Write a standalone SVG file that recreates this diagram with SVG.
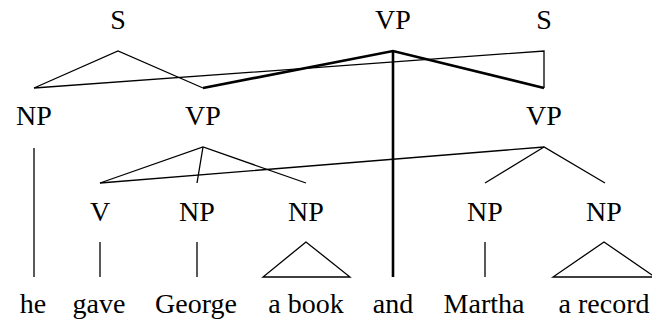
<svg xmlns="http://www.w3.org/2000/svg" width="652" height="323" viewBox="0 0 652 323">
<style>
.e{stroke:#000;stroke-width:1.3;fill:none;stroke-linejoin:miter}
.t{stroke:#000;stroke-width:2.6;fill:none}
</style>
<rect width="652" height="323" fill="#fff"/>
<g id="edges">
<polyline class="e" points="34,88 118,51 203,88"/>
<polyline class="e" points="34,88 544,51 544,88"/>
<polyline class="t" points="203,88 393,51 544,88"/>
<line class="t" x1="393" y1="51" x2="393" y2="277"/>
<line class="e" x1="34" y1="148" x2="34" y2="277"/>
<polyline class="e" points="100,183 203,147 306,183"/>
<line class="e" x1="203" y1="147" x2="197" y2="183"/>
<polyline class="e" points="100,183 544,147 605,183"/>
<line class="e" x1="544" y1="147" x2="485" y2="183"/>
<line class="e" x1="100" y1="242" x2="100" y2="277"/>
<line class="e" x1="197" y1="242" x2="197" y2="277"/>
<line class="e" x1="485" y1="242" x2="485" y2="277"/>
<polygon class="e" points="306,242 263,277 350,277"/>
<polygon class="e" points="604,242 553,277 655,277"/>
</g>
<g font-family="Liberation Serif, DejaVu Serif, serif" font-size="28" text-anchor="middle" fill="#000">
<g id="S1"><text x="118" y="29">S</text></g>
<g id="VP0"><text x="393" y="29">VP</text></g>
<g id="S2"><text x="544" y="29">S</text></g>
<g id="NP1"><text x="34" y="125">NP</text></g>
<g id="VP1"><text x="203" y="125">VP</text></g>
<g id="VP2"><text x="544" y="125">VP</text></g>
<g id="V"><text x="100" y="221">V</text></g>
<g id="NP2"><text x="197" y="221">NP</text></g>
<g id="NP3"><text x="306" y="221">NP</text></g>
<g id="NP4"><text x="485" y="221">NP</text></g>
<g id="NP5"><text x="604" y="221">NP</text></g>
<g id="words">
<text x="33" y="313">he</text>
<text x="99" y="313">gave</text>
<text x="196" y="313">George</text>
<text x="306" y="313">a book</text>
<text x="393" y="313">and</text>
<text x="484" y="313">Martha</text>
<text x="604" y="313">a record</text>
</g>
</g>
</svg>
